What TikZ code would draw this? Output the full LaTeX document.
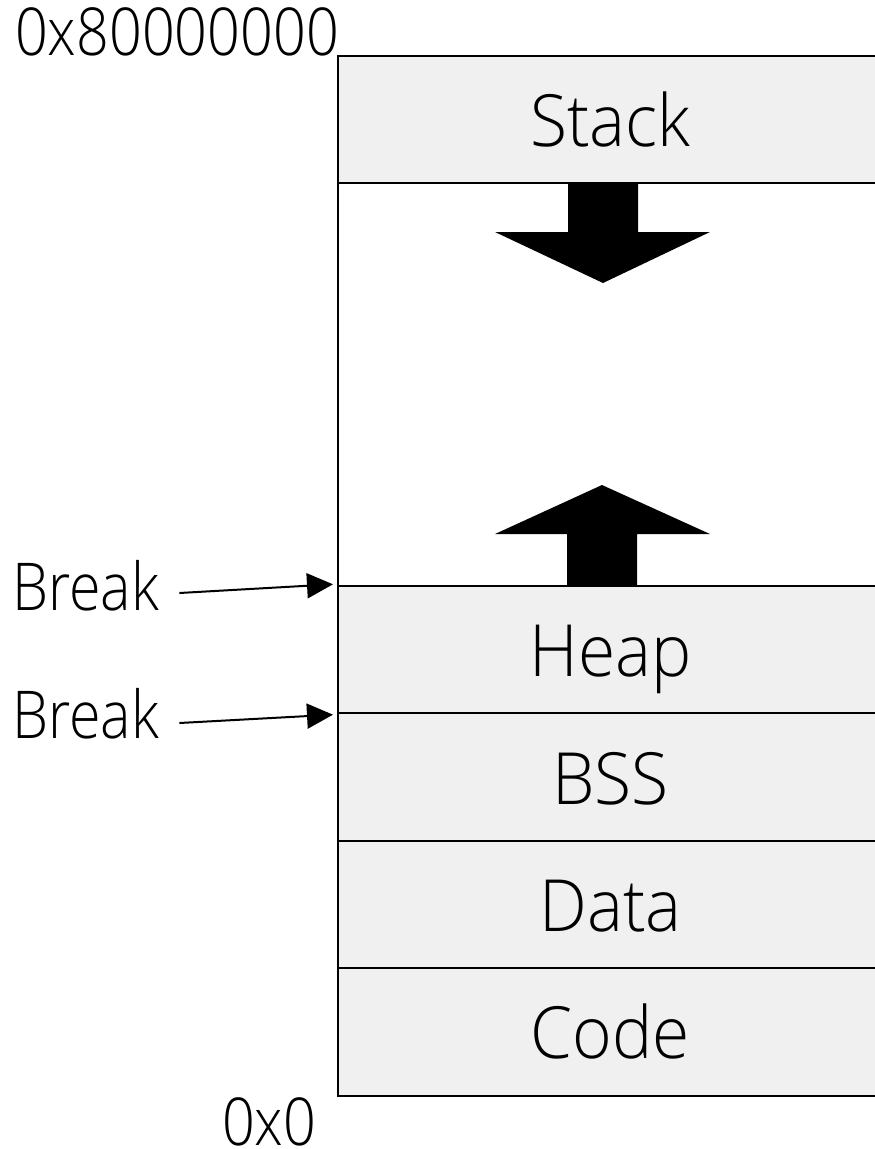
\documentclass[tikz,border=0pt]{standalone}
\usepackage{fontspec}
\setmainfont{Open Sans}[UprightFont={* Light}, FakeStretch=0.87]
\newfontfamily\segfont{Open Sans}[UprightFont={* Light}, FakeStretch=0.94]
\usetikzlibrary{arrows.meta,calc}
\definecolor{segfill}{HTML}{F0F0F0}
\begin{document}
\begin{tikzpicture}[x=1pt,y=-1pt,
  seg/.style={draw=black, line width=2pt, fill=segfill, inner sep=0pt, outer sep=0pt,
    minimum width=545pt, minimum height=127.4pt, anchor=north west,
    text height=54pt, text depth=0pt, font=\segfont\fontsize{72}{72}\selectfont},
  freearea/.style={seg, fill=white, minimum height=402.6pt},
  lbl/.style={inner sep=0pt, anchor=base west, font=\fontsize{66}{66}\selectfont},
  ptr/.style={line width=2pt, -{Triangle[length=26pt,width=25pt]}, shorten >=5pt},
  growarrow/.style={fill=black}
]
\useasboundingbox (0,0) rectangle (875,1149);

% memory segments, top to bottom
\node[seg] (stack) at (338,56) {Stack};
\node[freearea] (free) at (stack.south west) {};
\node[seg] (heap) at (free.south west) {Heap};
\node[seg] (bss) at (heap.south west) {BSS};
\node[seg] (data) at (bss.south west) {Data};
\node[seg] (code) at (data.south west) {Code};
\draw[line width=2pt] (stack.north west) -- (code.south west);

% growth directions of stack and heap
\fill[growarrow] (568,183) -- (638,183) -- (638,232) -- (710,232) -- (603,283)
  -- (495,232) -- (568,232) -- cycle;
\fill[growarrow] (567,586) -- (637,586) -- (637,534) -- (710,534) -- (602,485)
  -- (495,534) -- (567,534) -- cycle;

% address labels
\node[lbl] (hi) at (15,55) {0x80000000};
\node[lbl] (lo) at (222,1145) {0x0};

% program break pointers
\node[lbl] (brk1) at (12,610) {Break};
\node[lbl] (brk2) at (12,738) {Break};
\coordinate (brkA) at (heap.north west);
\coordinate (brkB) at (heap.south west);
\draw[ptr] ($(brk1.base east)+(20,-17)$) -- ($(brkA)+(0,-2)$);
\draw[ptr] ($(brk2.base east)+(20,-15)$) -- ($(brkB)+(0,1)$);
\end{tikzpicture}
\end{document}
